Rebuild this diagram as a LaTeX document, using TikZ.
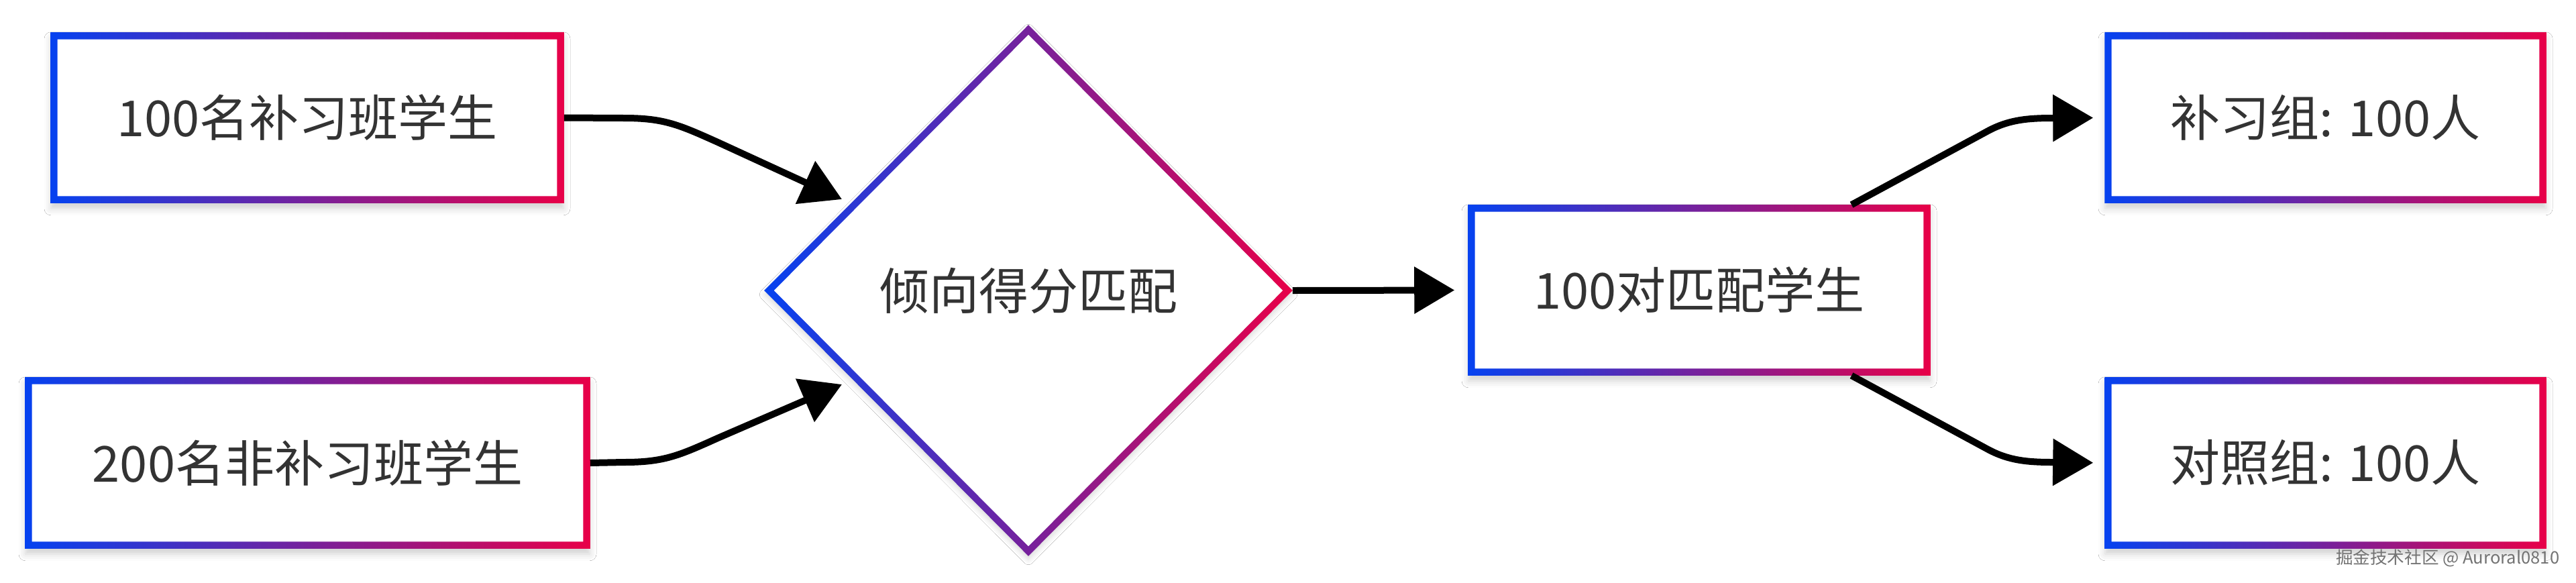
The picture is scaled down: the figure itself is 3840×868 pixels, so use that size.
\documentclass[tikz,border=0pt]{standalone}
\usepackage{fontspec}
\setmainfont{Noto Sans CJK SC}
\usetikzlibrary{arrows.meta,shapes.geometric,shadows.blur,calc}
\definecolor{gblue}{RGB}{5,66,240}
\definecolor{gred}{RGB}{232,0,72}
\definecolor{txt}{RGB}{51,51,51}
\tikzset{
  box/.style={draw=none,fill=white,inner sep=0pt,
    blur shadow={shadow xshift=0pt,shadow yshift=-2.2pt,shadow blur radius=2.5pt,shadow opacity=18},
    font=\fontsize{18.5pt}{22pt}\selectfont,text=txt},
  dia/.style={diamond,draw=none,fill=white,inner sep=0pt,
    blur shadow={shadow xshift=0pt,shadow yshift=-1.5pt,shadow blur radius=2pt,shadow opacity=15},
    font=\fontsize{18.5pt}{22pt}\selectfont,text=txt},
  ring/.style={left color=gblue,right color=gred,even odd rule},
  arr/.style={draw=black,line width=2.5pt,-{Triangle[length=15pt,width=17pt]}},
  wm/.style={font=\fontsize{6.4pt}{8pt}\selectfont,text=black!55}
}
\newcommand{\boxring}[1]{%
  \shade[ring] (#1.north west) rectangle (#1.south east)
    ([shift={(2.6pt,-2.6pt)}]#1.north west) rectangle ([shift={(-2.6pt,2.6pt)}]#1.south east);}
\begin{document}
\begin{tikzpicture}[x=0.25pt,y=-0.25pt]
\fill[white] (0,0) rectangle (3840,868);
\useasboundingbox (0,0) rectangle (3840,868);
% nodes
\node[box,minimum width=191pt,minimum height=63.25pt] (a) at (458,175.5) {100名补习班学生};
\node[box,minimum width=210.25pt,minimum height=63.5pt] (b) at (458.5,690) {200名非补习班学生};
\node[dia,minimum width=196.5pt,minimum height=197.5pt] (d) at (1533,433) {倾向得分匹配};
\node[box,minimum width=172pt,minimum height=63.25pt] (c) at (2533,432.5) {100对匹配学生};
\node[box,minimum width=164.25pt,minimum height=63.25pt] (e) at (3466.5,175.5) {补习组: 100人};
\node[box,minimum width=164.25pt,minimum height=63.5pt] (f) at (3466.5,690) {对照组: 100人};
% gradient borders
\boxring{a}
\boxring{b}
\boxring{c}
\boxring{e}
\boxring{f}
\shade[ring] (d.north) -- (d.east) -- (d.south) -- (d.west) -- cycle
  ([yshift=-3.6pt]d.north) -- ([xshift=-3.6pt]d.east) -- ([yshift=3.6pt]d.south) -- ([xshift=3.6pt]d.west) -- cycle;
% connector end points
\coordinate (t1) at (1255,297);
\coordinate (t2) at (1255,573);
\coordinate (s4) at ([xshift=56.75pt]c.north);
\coordinate (s5) at ([xshift=56.75pt]c.south);
% connectors
\draw[arr] (a.east) -- (930,176) .. controls (990,176) and (1012,186) .. (1070,212) -- (t1);
\draw[arr] (b.east) -- (930,689) .. controls (990,689) and (1012,679) .. (1070,653) -- (t2);
\draw[arr,shorten >=5pt] (d.east) -- (c.west);
\draw[arr,shorten >=4.25pt] (s4) -- (2960,197) .. controls (2992,179) and (3020,176) .. (3060,176) -- (e.west);
\draw[arr,shorten >=4.25pt] (s5) -- (2960,668) .. controls (2992,686) and (3020,689) .. (3060,689) -- (f.west);
% watermark
\node[wm,anchor=east,inner sep=0pt] (w) at (3816,832) {掘金技术社区 @ Auroral0810};
\end{tikzpicture}
\end{document}
